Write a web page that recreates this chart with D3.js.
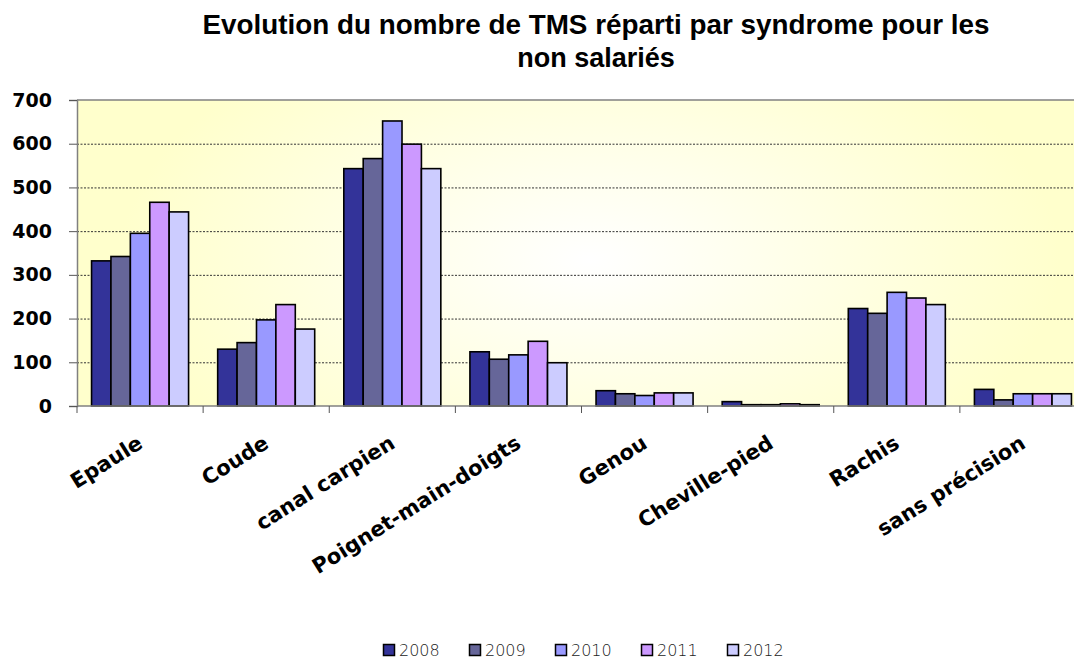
<!DOCTYPE html>
<html>
<head>
<meta charset="utf-8">
<script src="https://cdn.jsdelivr.net/npm/d3@7"></script>
<style>
  html, body { margin: 0; padding: 0; background: #fff; }
  svg { display: block; }
</style>
</head>
<body>
<svg id="chart" width="1074" height="661"></svg>
<script>
// Syndromes (categories) and yearly counts
const categories = ["Epaule", "Coude", "canal carpien", "Poignet-main-doigts", "Genou", "Cheville-pied", "Rachis", "sans précision"];
const years = ["2008", "2009", "2010", "2011", "2012"];
const v2008 = [332, 130, 543, 124, 35, 10, 223, 38];
const v2009 = [342, 145, 566, 107, 28, 3, 212, 14];
const v2010 = [395, 197, 652, 117, 24, 3, 260, 28];
const v2011 = [466, 232, 599, 148, 30, 5, 247, 28];
const v2012 = [444, 176, 543, 99, 30, 3, 232, 28];
const yTicks = [0, 100, 200, 300, 400, 500, 600, 700];
const colors = ["#333399", "#666699", "#9999FF", "#CC99FF", "#CCCCFF"];

const series = [v2008, v2009, v2010, v2011, v2012];

const svg = d3.select("#chart");
const plot = { left: 77, top: 100, right: 1086, bottom: 406 };

const x0 = d3.scaleBand().domain(categories).range([plot.left, plot.right]).padding(0);
// bar groups take 5 of 6.5 slots (150% gap between groups)
const x1 = d3.scaleBand().domain(years)
  .range([0, x0.bandwidth()]).paddingInner(0).paddingOuter(0.75);
const y = d3.scaleLinear().domain([0, 700]).range([plot.bottom, plot.top]);

// plot background: pale yellow fading to white in the middle
const defs = svg.append("defs");
const grad = defs.append("radialGradient").attr("id", "bg")
  .attr("gradientUnits", "userSpaceOnUse")
  .attr("cx", 590).attr("cy", 260).attr("r", 470)
  .attr("gradientTransform", "translate(590,260) scale(1,0.55) translate(-590,-260)");
grad.append("stop").attr("offset", "0").attr("stop-color", "#FFFFFF");
grad.append("stop").attr("offset", "1").attr("stop-color", "#FFFFCC");

svg.append("rect")
  .attr("x", plot.left).attr("y", plot.top)
  .attr("width", plot.right - plot.left).attr("height", plot.bottom - plot.top)
  .attr("fill", "url(#bg)");

// gridlines
svg.append("g").selectAll("line")
  .data(yTicks.filter(t => t > 0 && t < 700))
  .join("line")
  .attr("x1", plot.left).attr("x2", plot.right)
  .attr("y1", d => y(d) + 0.5).attr("y2", d => y(d) + 0.5)
  .attr("stroke", "#333").attr("stroke-width", 1)
  .attr("stroke-dasharray", "2,1.5");

// top border
svg.append("line")
  .attr("x1", plot.left).attr("x2", plot.right)
  .attr("y1", plot.top).attr("y2", plot.top)
  .attr("stroke", "#808080").attr("stroke-width", 1.5);

// bars
const groups = svg.append("g").selectAll("g")
  .data(categories)
  .join("g")
  .attr("transform", d => `translate(${x0(d)},0)`);

groups.selectAll("rect")
  .data((c, i) => years.map((yr, k) => ({ yr, v: series[k][i], k })))
  .join("rect")
  .attr("x", d => x1(d.yr))
  .attr("y", d => y(d.v))
  .attr("width", x1.bandwidth())
  .attr("height", d => y(0) - y(d.v))
  .attr("fill", d => colors[d.k])
  .attr("stroke", "#000").attr("stroke-width", 1.6);

// y axis
const yAxis = d3.axisLeft(y).tickValues(yTicks).tickSize(8).tickPadding(17).tickFormat(d3.format("d"));
const gy = svg.append("g").attr("transform", `translate(${plot.left},0)`).call(yAxis);
gy.select(".domain").attr("stroke", "#808080").attr("stroke-width", 1.5);
gy.selectAll(".tick line").attr("stroke", "#555");
gy.selectAll(".tick text")
  .attr("fill", "#000")
  .style("font-family", "'DejaVu Sans', sans-serif")
  .style("font-weight", "bold")
  .style("font-size", "19px");

// x axis: ticks at category boundaries
const gx = svg.append("g").attr("transform", `translate(0,${plot.bottom})`);
gx.append("line").attr("x1", plot.left).attr("x2", plot.right)
  .attr("y1", 0).attr("y2", 0).attr("stroke", "#808080").attr("stroke-width", 1.5);
gx.selectAll("line.tk")
  .data(categories.map(c => x0(c)).concat([plot.right]))
  .join("line").attr("class", "tk")
  .attr("x1", d => d).attr("x2", d => d)
  .attr("y1", 0).attr("y2", 7)
  .attr("stroke", "#555");

// rotated category labels, top-right corner near the category centre
gx.selectAll("text")
  .data(categories)
  .join("text")
  .attr("transform", d => `translate(${x0(d) + x0.bandwidth() / 2 - 4},${28}) rotate(-32)`)
  .attr("text-anchor", "end")
  .attr("dy", "0.72em")
  .style("font-family", "'DejaVu Sans', sans-serif")
  .style("font-weight", "bold")
  .style("font-size", "21px")
  .text(d => d);

// title
const title = svg.append("text")
  .attr("text-anchor", "middle")
  .style("font-family", "'Liberation Sans', Arial, sans-serif")
  .style("font-weight", "bold")
  .style("font-size", "27px");
title.append("tspan").attr("x", 596).attr("y", 34)
  .attr("textLength", 787).attr("lengthAdjust", "spacingAndGlyphs")
  .text("Evolution du nombre de TMS réparti par syndrome pour les");
title.append("tspan").attr("x", 596).attr("y", 67).text("non salariés");

// legend
const legend = svg.append("g").attr("transform", "translate(383,644)");
const item = legend.selectAll("g")
  .data(years)
  .join("g")
  .attr("transform", (d, i) => `translate(${i * 86},0)`);
item.append("rect")
  .attr("x", 0.5).attr("y", 0.5).attr("width", 11).attr("height", 11)
  .attr("fill", (d, i) => colors[i])
  .attr("stroke", "#000").attr("stroke-width", 1.5);
item.append("text")
  .attr("x", 16).attr("y", 11.5)
  .attr("fill", "#222")
  .style("font-family", "'DejaVu Sans', sans-serif")
  .style("font-weight", "200")
  .style("font-size", "16px")
  .text(d => d);
</script>
</body>
</html>
